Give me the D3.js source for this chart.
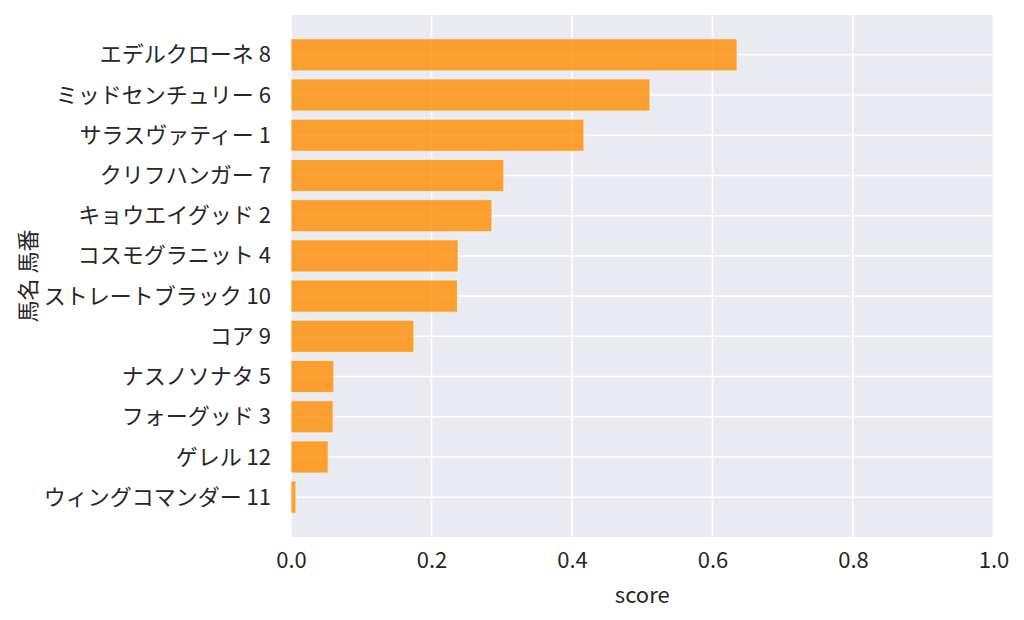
<!DOCTYPE html>
<html>
<head>
<meta charset="utf-8">
<script src="https://cdn.jsdelivr.net/npm/d3@7"></script>
<style>
  body{margin:0;background:#fff;}
  text{font-family:"Noto Sans CJK JP","Noto Sans",sans-serif;fill:#262626;}
</style>
</head>
<body>
<div id="chart"></div>
<script>
let names=['エデルクローネ 8','ミッドセンチュリー 6','サラスヴァティー 1','クリフハンガー 7','キョウエイグッド 2','コスモグラニット 4','ストレートブラック 10','コア 9','ナスノソナタ 5','フォーグッド 3','ゲレル 12','ウィングコマンダー 11']
let scores=[0.635,0.511,0.417,0.303,0.286,0.238,0.237,0.175,0.061,0.060,0.053,0.007]
let xTicks=[0,0.2,0.4,0.6,0.8,1.0]
let w=1024, h=620
let pLeft=291, pRight=993.5, pTop=15, pBottom=537
let fs='22px'

let svg=d3.select('#chart').append('svg').attr('width',w).attr('height',h)
let xScale=d3.scaleLinear().domain([0,1]).range([pLeft,pRight])
// matplotlib barh: bars height 0.8, 5% margins
let yScale=d3.scaleLinear().domain([-0.99,names.length-1+0.99]).range([pTop,pBottom])

svg.append('rect').attr('x',pLeft).attr('y',pTop).attr('width',pRight-pLeft).attr('height',pBottom-pTop).attr('fill','#eaeaf2')

svg.selectAll('.vgrid').data(xTicks).enter().append('line').attr('class','vgrid')
  .attr('x1',d=>xScale(d)).attr('x2',d=>xScale(d)).attr('y1',pTop).attr('y2',pBottom)
  .attr('stroke','#fff').attr('stroke-width',1.6)
svg.selectAll('.hgrid').data(names).enter().append('line').attr('class','hgrid')
  .attr('x1',pLeft).attr('x2',pRight).attr('y1',(d,i)=>yScale(i)).attr('y2',(d,i)=>yScale(i))
  .attr('stroke','#fff').attr('stroke-width',1.6)

svg.selectAll('.bar').data(scores).enter().append('rect').attr('class','bar')
  .attr('x',xScale(0))
  .attr('y',(d,i)=>yScale(i-0.4))
  .attr('width',d=>xScale(d)-xScale(0))
  .attr('height',yScale(0.4)-yScale(-0.4))
  .attr('fill','#ff8c00').attr('fill-opacity',0.8)
  .attr('stroke','#fff').attr('stroke-opacity',0.6).attr('stroke-width',1.2)

let xAxis=d3.axisBottom(xScale).tickValues(xTicks).tickFormat(d3.format('.1f')).tickSize(0).tickPadding(14)
let gx=svg.append('g').attr('transform','translate(0,'+pBottom+')').call(xAxis)
gx.select('.domain').remove()
gx.selectAll('text').style('font-size',fs).style('fill','#262626').attr('dy','0.75em')

let yAxis=d3.axisLeft(yScale).tickValues(d3.range(names.length)).tickFormat(i=>names[i]).tickSize(0).tickPadding(20)
let gy=svg.append('g').attr('transform','translate('+pLeft+',0)').call(yAxis)
gy.select('.domain').remove()
gy.selectAll('text').style('font-size',fs).style('fill','#262626')

svg.append('text').text('score').attr('x',(pLeft+pRight)/2).attr('y',603)
  .attr('text-anchor','middle').style('font-size',fs)
svg.append('text').text('馬名 馬番').attr('transform','translate(36,'+((pTop+pBottom)/2)+') rotate(-90)')
  .attr('text-anchor','middle').style('font-size',fs)
</script>
</body>
</html>
